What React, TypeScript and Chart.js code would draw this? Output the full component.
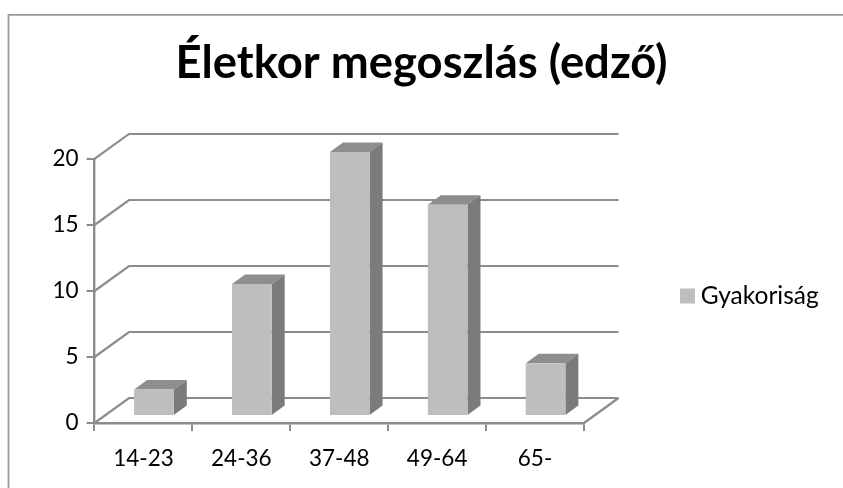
import React, { useEffect, useRef } from "react";
import { Chart, registerables } from "chart.js";

Chart.register(...registerables);

const TITLE = "Életkor megoszlás (edző)";
const SERIES_NAME = "Gyakoriság";
const categories = ["14-23", "24-36", "37-48", "49-64", "65-"];
const frequency = [2, 10, 20, 16, 4];
const yTicks = [0, 5, 10, 15, 20];

const FONT = "Lato, Carlito, Calibri, sans-serif";
const AXIS = "#8c8c8c";
const FRONT = "#bebebe";
const SIDE = "#7b7b7b";
const TOP = "#8e8e8e";

// projection offsets of the pseudo-3D view
const WALL = { dx: 34.5, dy: -25 };
const BAR_SHIFT = { dx: 10.5, dy: -7 };
const BAR_DEPTH = { dx: 13, dy: -9.5 };

const threeD = {
  id: "threeD",
  beforeDraw(chart: any) {
    const { ctx, width, height } = chart;
    ctx.save();
    ctx.strokeStyle = "#9a9a9a";
    ctx.lineWidth = 1.8;
    ctx.beginPath();
    ctx.moveTo(8.5, height);
    ctx.lineTo(8.5, 14.8);
    ctx.lineTo(width, 14.8);
    ctx.stroke();
    ctx.restore();
  },
  afterLayout(chart: any) {
    if (chart.legend) {
      chart.legend.top += 5;
      chart.legend.bottom += 5;
    }
  },
  beforeDatasetsDraw(chart: any) {
    const { ctx, chartArea, scales } = chart;
    const { left, right, bottom } = chartArea;
    ctx.save();
    ctx.strokeStyle = AXIS;
    ctx.lineWidth = 2.2;
    for (const t of yTicks) {
      const y = scales.y.getPixelForValue(t);
      ctx.beginPath();
      ctx.moveTo(left, y);
      ctx.lineTo(left + WALL.dx, y + WALL.dy);
      ctx.lineTo(right + WALL.dx, y + WALL.dy);
      ctx.stroke();
    }
    ctx.beginPath();
    ctx.moveTo(right, bottom);
    ctx.lineTo(right + WALL.dx, bottom + WALL.dy);
    ctx.stroke();
    ctx.restore();

    ctx.save();
    ctx.translate(BAR_SHIFT.dx, BAR_SHIFT.dy);
    const meta = chart.getDatasetMeta(0);
    for (const el of meta.data) {
      const p = el.getProps(["x", "y", "base", "width"], true);
      const l = p.x - p.width / 2;
      const r = p.x + p.width / 2;
      ctx.fillStyle = TOP;
      ctx.beginPath();
      ctx.moveTo(l, p.y);
      ctx.lineTo(l + BAR_DEPTH.dx, p.y + BAR_DEPTH.dy);
      ctx.lineTo(r + BAR_DEPTH.dx, p.y + BAR_DEPTH.dy);
      ctx.lineTo(r, p.y);
      ctx.closePath();
      ctx.fill();
      ctx.fillStyle = SIDE;
      ctx.beginPath();
      ctx.moveTo(r, p.y);
      ctx.lineTo(r + BAR_DEPTH.dx, p.y + BAR_DEPTH.dy);
      ctx.lineTo(r + BAR_DEPTH.dx, p.base + BAR_DEPTH.dy);
      ctx.lineTo(r, p.base);
      ctx.closePath();
      ctx.fill();
    }
  },
  afterDatasetsDraw(chart: any) {
    chart.ctx.restore();
  },
};

export default function App() {
  const ref = useRef<HTMLCanvasElement>(null);
  useEffect(() => {
    document.body.style.margin = "0";
    const chart = new Chart(ref.current as HTMLCanvasElement, {
      type: "bar",
      data: {
        labels: categories,
        datasets: [
          {
            label: SERIES_NAME,
            data: frequency,
            backgroundColor: FRONT,
            borderWidth: 0,
            barPercentage: 0.405,
            categoryPercentage: 1,
          },
        ],
      },
      plugins: [threeD],
      options: {
        responsive: false,
        animation: false,
        layout: { padding: { left: 20, right: 20, top: 36, bottom: 0 } },
        plugins: {
          tooltip: { enabled: false },
          title: {
            display: true,
            text: TITLE,
            color: "#000",
            font: { family: FONT, size: 45.4, weight: "bold" },
            padding: { top: 0, bottom: 68.5 },
          },
          legend: {
            position: "right",
            fullSize: false,
            maxWidth: 143,
            labels: {
              color: "#000",
              font: { family: FONT, size: 24.5 },
              boxWidth: 2,
              boxHeight: 2,
              padding: 6.5,
              generateLabels: () => [
                {
                  text: SERIES_NAME,
                  fillStyle: FRONT,
                  strokeStyle: FRONT,
                  lineWidth: 13,
                  lineJoin: "miter",
                  datasetIndex: 0,
                },
              ],
            },
          },
        },
        scales: {
          x: {
            afterFit: (a: any) => {
              a.height = 65;
            },
            grid: { drawOnChartArea: false, color: AXIS, lineWidth: 2, tickLength: 8 },
            border: { color: AXIS, width: 2.4 },
            ticks: { color: "#000", font: { family: FONT, size: 22.5 }, padding: 14 },
          },
          y: {
            min: 0,
            max: 20,
            afterFit: (a: any) => {
              a.width = 74.5;
            },
            afterBuildTicks: (a: any) => {
              a.ticks = yTicks.map((value) => ({ value }));
            },
            grid: { drawOnChartArea: false, color: AXIS, lineWidth: 2, tickLength: 8 },
            border: { color: AXIS, width: 2.4 },
            ticks: { color: "#000", font: { family: FONT, size: 22.5 }, padding: 8 },
          },
          gap: {
            position: "right",
            display: true,
            afterFit: (a: any) => {
              a.width = 96;
            },
            grid: { display: false },
            border: { display: false },
            ticks: { display: false },
          },
        },
      } as any,
    });
    return () => chart.destroy();
  }, []);
  return (
    <canvas
      ref={ref}
      width={843}
      height={488}
      style={{ position: "absolute", left: 0, top: 0, width: 843, height: 488 }}
    />
  );
}
